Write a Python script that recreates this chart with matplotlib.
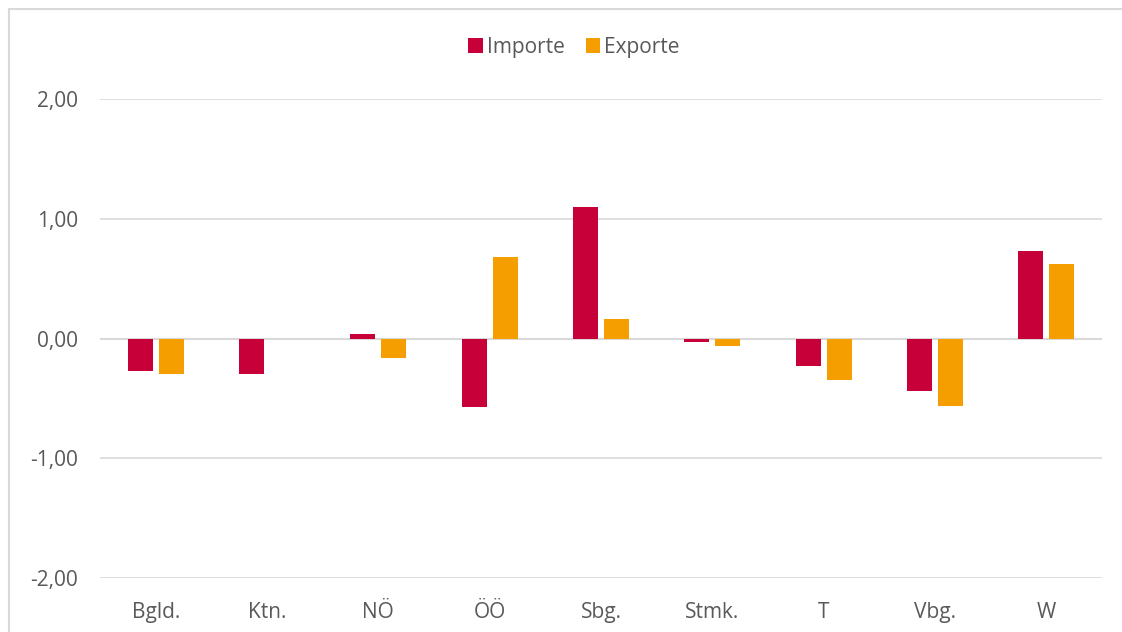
import matplotlib.pyplot as plt
import numpy as np
from matplotlib.patches import Rectangle

plt.rcParams['font.family'] = ['Open Sans', 'DejaVu Sans']

laender = ['Bgld.', 'Ktn.', 'NÖ', 'ÖÖ', 'Sbg.', 'Stmk.', 'T', 'Vbg.', 'W']
importe = [-0.27, -0.30, 0.04, -0.57, 1.10, -0.03, -0.23, -0.44, 0.73]
exporte = [-0.30, 0.00, -0.16, 0.68, 0.16, -0.06, -0.35, -0.56, 0.62]
yticks = [-2, -1, 0, 1, 2]

grau = '#595959'
rot = '#C8003A'
orange = '#F59E00'

fig = plt.figure(figsize=(11.22, 6.32), dpi=100)
# frame of the chart area (only top and left visible)
fig.patches.append(Rectangle((9 / 1122, -0.1), 1.2, 1 - 9 / 632 + 0.1,
                             transform=fig.transFigure, fill=False,
                             edgecolor='#D9D9D9', lw=1.5))

ax = fig.add_axes([100 / 1122, 54 / 632, 1002 / 1122, 479 / 632])
x = np.arange(len(laender))
w = 0.225
ax.bar(x - 0.14, importe, w, color=rot, label='Importe', zorder=3)
ax.bar(x + 0.14, exporte, w, color=orange, label='Exporte', zorder=3)

ax.set_xlim(-0.5, len(laender) - 0.5)
ax.set_ylim(-2, 2)
ax.set_yticks(yticks)
ax.set_yticklabels([('%.2f' % v).replace('.', ',') for v in yticks])
ax.set_xticks(x)
ax.set_xticklabels(laender)
ax.tick_params(axis='both', length=0, colors=grau, labelsize=15)
ax.tick_params(axis='y', pad=16)
ax.tick_params(axis='x', pad=17)
ax.grid(axis='y', color='#D9D9D9', lw=1.2, zorder=0)
ax.axhline(0, color='#D9D9D9', lw=1.5, zorder=2)
for s in ax.spines.values():
    s.set_visible(False)

leg = fig.legend(loc='center', bbox_to_anchor=(574 / 1122, 1 - 47 / 632), ncol=2,
                 frameon=False, fontsize=15, handlelength=0.7, handleheight=0.7,
                 handletextpad=0.2, columnspacing=1.0)
for t in leg.get_texts():
    t.set_color(grau)

fig.savefig('out.png', dpi=100)
